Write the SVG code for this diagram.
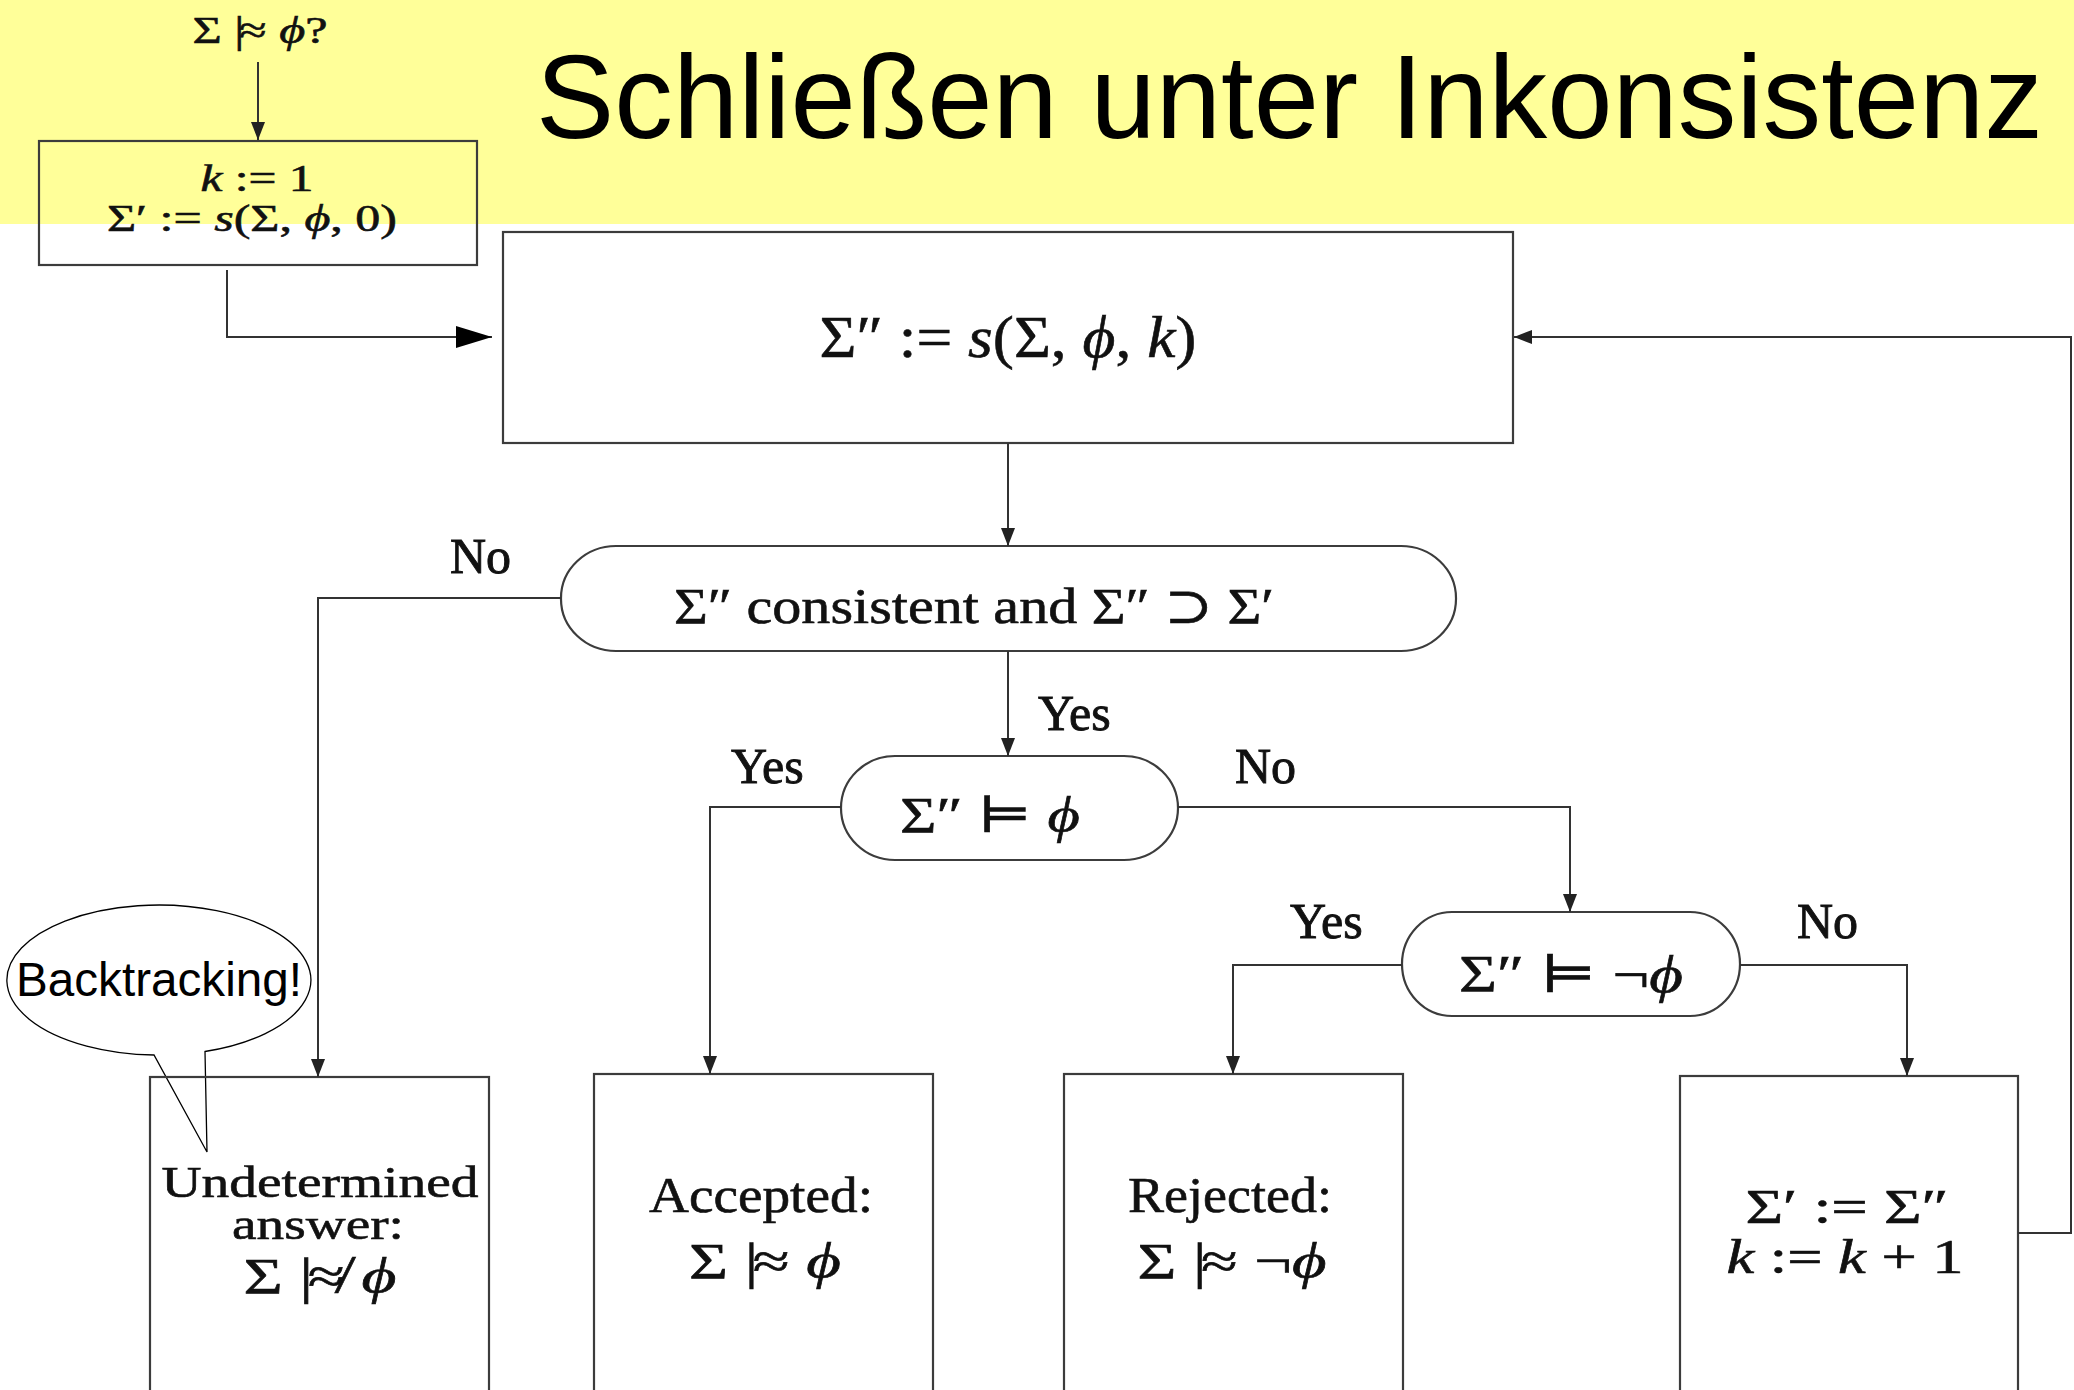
<svg xmlns="http://www.w3.org/2000/svg" width="2074" height="1390" viewBox="0 0 2074 1390">
<style>
.bx{fill:none;stroke:#3c3c3c;stroke-width:2.2}
.ln{fill:none;stroke:#333;stroke-width:2}
.m{font-family:'Liberation Serif','DejaVu Serif',serif;fill:#111;stroke:#111;stroke-width:0.6;text-anchor:middle}
.lb{font-family:'Liberation Serif','DejaVu Serif',serif;fill:#111;stroke:#111;stroke-width:0.9;font-size:50px}
.i{font-style:italic}
.title{font-family:'Liberation Sans',Arial,sans-serif;font-size:118px;fill:#000}
.call{fill:#fff;stroke:#000;stroke-width:1.3}
.cl{font-family:'Liberation Sans',Arial,sans-serif;font-size:48px;fill:#000}
</style>
<defs>
<marker id="ah" markerUnits="userSpaceOnUse" markerWidth="18" markerHeight="14" refX="18" refY="7" orient="auto">
<path d="M0,0 L18,7 L0,14 Z" fill="#222"/>
</marker>
<marker id="ahb" markerUnits="userSpaceOnUse" markerWidth="36" markerHeight="22" refX="36" refY="11" orient="auto">
<path d="M0,0 L36,11 L0,22 Z" fill="#000"/>
</marker>
</defs>
<rect x="0" y="0" width="2074" height="1390" fill="#fff"/>
<rect x="0" y="0" width="2074" height="224" fill="#ffff99"/>
<text class="title" x="536" y="138" textLength="1507" lengthAdjust="spacingAndGlyphs">Schließen unter Inkonsistenz</text>

<g id="callout">
<path class="call" d="M205,1051.5 A152,75 0 1 0 154,1055 L207,1152 Z"/>
<text class="cl" x="16" y="996" textLength="286" lengthAdjust="spacingAndGlyphs">Backtracking!</text>
</g>

<g id="query">
<text class="m" x="260" y="43" font-size="38" textLength="135" lengthAdjust="spacingAndGlyphs">Σ |<tspan dx="-4">≈</tspan> <tspan class="i">ϕ</tspan>?</text>
</g>

<g id="init">
<rect class="bx" x="39" y="141" width="438" height="124"/>
<text class="m" x="257" y="191" font-size="38" textLength="113" lengthAdjust="spacingAndGlyphs"><tspan class="i">k</tspan> := 1</text>
<text class="m" x="252" y="231" font-size="38" textLength="290" lengthAdjust="spacingAndGlyphs">Σ′ := <tspan class="i">s</tspan>(Σ, <tspan class="i">ϕ</tspan>, 0)</text>
</g>

<g id="compute">
<rect class="bx" x="503" y="232" width="1010" height="211"/>
<text class="m" x="1008" y="357" font-size="60" textLength="377" lengthAdjust="spacingAndGlyphs">Σ″ := <tspan class="i">s</tspan>(Σ, <tspan class="i">ϕ</tspan>, <tspan class="i">k</tspan>)</text>
</g>

<g id="consistent">
<rect class="bx" x="561" y="546" width="895" height="105" rx="55" ry="52"/>
<text class="m" x="974" y="623" font-size="50" textLength="600" lengthAdjust="spacingAndGlyphs">Σ″ consistent and Σ″ ⊃ Σ′</text>
</g>

<g id="entails">
<rect class="bx" x="841" y="756" width="337" height="104" rx="54" ry="52"/>
<text class="m" x="990" y="832" font-size="50" textLength="180" lengthAdjust="spacingAndGlyphs">Σ″ ⊨ <tspan class="i">ϕ</tspan></text>
</g>

<g id="entailsneg">
<rect class="bx" x="1402" y="912" width="338" height="104" rx="50" ry="52"/>
<text class="m" x="1571" y="992" font-size="52" textLength="224" lengthAdjust="spacingAndGlyphs">Σ″ ⊨ ¬<tspan class="i">ϕ</tspan></text>
</g>

<g id="undetermined">
<rect class="bx" x="150" y="1077" width="339" height="330"/>
<text class="m" x="320" y="1197" font-size="45" textLength="317" lengthAdjust="spacingAndGlyphs">Undetermined</text>
<text class="m" x="318" y="1239" font-size="45" textLength="172" lengthAdjust="spacingAndGlyphs">answer:</text>
<text class="m" x="320" y="1293" font-size="50" textLength="153" lengthAdjust="spacingAndGlyphs">Σ |<tspan dx="-4">≉</tspan> <tspan class="i">ϕ</tspan></text>
</g>

<g id="accepted">
<rect class="bx" x="594" y="1074" width="339" height="330"/>
<text class="m" x="761" y="1212" font-size="50" textLength="224" lengthAdjust="spacingAndGlyphs">Accepted:</text>
<text class="m" x="765" y="1278" font-size="50" textLength="152" lengthAdjust="spacingAndGlyphs">Σ |<tspan dx="-4">≈</tspan> <tspan class="i">ϕ</tspan></text>
</g>

<g id="rejected">
<rect class="bx" x="1064" y="1074" width="339" height="330"/>
<text class="m" x="1230" y="1212" font-size="50" textLength="204" lengthAdjust="spacingAndGlyphs">Rejected:</text>
<text class="m" x="1232" y="1278" font-size="50" textLength="189" lengthAdjust="spacingAndGlyphs">Σ |<tspan dx="-4">≈</tspan> ¬<tspan class="i">ϕ</tspan></text>
</g>

<g id="update">
<rect class="bx" x="1680" y="1076" width="338" height="330"/>
<text class="m" x="1847" y="1223" font-size="48" textLength="203" lengthAdjust="spacingAndGlyphs">Σ′ := Σ″</text>
<text class="m" x="1845" y="1273" font-size="48" textLength="237" lengthAdjust="spacingAndGlyphs"><tspan class="i">k</tspan> := <tspan class="i">k</tspan> + 1</text>
</g>

<g id="connectors">
<path class="ln" d="M258,62 V140" marker-end="url(#ah)"/>
<path class="ln" d="M227,270 V337 H492" marker-end="url(#ahb)"/>
<path class="ln" d="M2018,1233 H2071 V337 H1514" marker-end="url(#ah)"/>
<path class="ln" d="M1008,443 V546" marker-end="url(#ah)"/>
<path class="ln" d="M561,598 H318 V1077" marker-end="url(#ah)"/>
<path class="ln" d="M1008,651 V756" marker-end="url(#ah)"/>
<path class="ln" d="M841,807 H710 V1074" marker-end="url(#ah)"/>
<path class="ln" d="M1178,807 H1570 V912" marker-end="url(#ah)"/>
<path class="ln" d="M1402,965 H1233 V1074" marker-end="url(#ah)"/>
<path class="ln" d="M1740,965 H1907 V1076" marker-end="url(#ah)"/>
</g>

<g id="labels">
<text class="lb" x="450" y="573">No</text>
<text class="lb" x="1038" y="730">Yes</text>
<text class="lb" x="731" y="783">Yes</text>
<text class="lb" x="1235" y="783">No</text>
<text class="lb" x="1290" y="938">Yes</text>
<text class="lb" x="1797" y="938">No</text>
</g>
</svg>
